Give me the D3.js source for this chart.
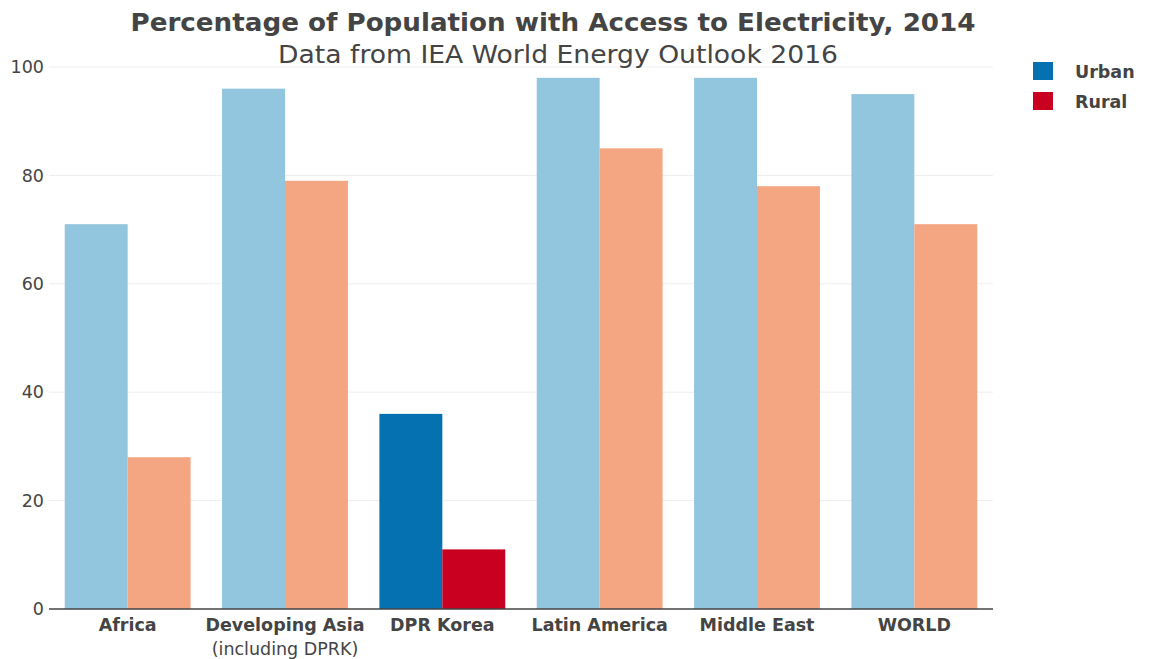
<!DOCTYPE html>
<html><head><meta charset="utf-8">
<script src="https://cdn.jsdelivr.net/npm/d3@7"></script>
<style>body{margin:0;background:#fff;} svg{display:block;}</style>
</head><body>
<svg id="c" width="1152" height="659"></svg>
<script>
const categories = ["Africa", "Developing Asia", "DPR Korea", "Latin America", "Middle East", "WORLD"];
const subLabels = ["", "(including DPRK)", "", "", "", ""];
const urban = [71, 96, 36, 98, 98, 95];
const rural = [28, 79, 11, 85, 78, 71];
const yTicks = [0, 20, 40, 60, 80, 100];
const seriesNames = ["Urban", "Rural"];
const highlight = "DPR Korea";

const svg = d3.select("#c");
const m = {l: 49, r: 159, t: 67, b: 50};
const W = 1152, H = 659;
const x = d3.scaleBand().domain(categories).range([m.l, W - m.r]).paddingInner(0.2).paddingOuter(0.1);
const x1 = d3.scaleBand().domain(seriesNames).range([0, x.bandwidth()]);
const y = d3.scaleLinear().domain([0, 100]).range([H - m.b, m.t]);
const font = "DejaVu Sans, Verdana, sans-serif";

// grid
svg.append("g").selectAll("line").data(yTicks.filter(d => d > 0)).join("line")
  .attr("x1", m.l).attr("x2", W - m.r).attr("y1", d => y(d)).attr("y2", d => y(d))
  .attr("stroke", "#eeeeee").attr("stroke-width", 1);

// y axis labels
const ya = svg.append("g").attr("transform", `translate(${m.l},0)`)
  .call(d3.axisLeft(y).tickValues(yTicks).tickSize(0).tickPadding(5));
ya.select(".domain").remove();
ya.selectAll("text").attr("font-family", font).attr("font-size", 17.5).attr("fill", "#444");

const colors = {
  normal: {Urban: "#92c5de", Rural: "#f4a582"},
  hi: {Urban: "#0571b0", Rural: "#ca0020"}
};
const rows = categories.map((c, i) => ({c, vals: [{s: "Urban", v: urban[i]}, {s: "Rural", v: rural[i]}]}));
svg.append("g").selectAll("g").data(rows).join("g")
  .attr("transform", d => `translate(${x(d.c)},0)`)
  .selectAll("rect").data(d => d.vals.map(v => ({...v, c: d.c}))).join("rect")
  .attr("x", d => x1(d.s)).attr("width", x1.bandwidth())
  .attr("y", d => y(d.v)).attr("height", d => y(0) - y(d.v))
  .attr("fill", d => (d.c === highlight ? colors.hi : colors.normal)[d.s]);

// zero line
svg.append("line").attr("x1", m.l).attr("x2", W - m.r).attr("y1", y(0)).attr("y2", y(0))
  .attr("stroke", "#444").attr("stroke-width", 1.5);

// x labels
const xl = svg.append("g");
categories.forEach((c, i) => {
  const cx = x(c) + x.bandwidth() / 2;
  xl.append("text").attr("x", cx).attr("y", 631).attr("text-anchor", "middle")
    .attr("font-family", font).attr("font-weight", "bold").attr("font-size", 17.5).attr("fill", "#444").text(c);
  if (subLabels[i]) xl.append("text").attr("x", cx).attr("y", 655).attr("text-anchor", "middle")
    .attr("font-family", font).attr("font-size", 17.5).attr("fill", "#444").text(subLabels[i]);
});

// title
svg.append("text").attr("x", 553).attr("y", 31).attr("text-anchor", "middle")
  .attr("font-family", font).attr("font-weight", "bold").attr("font-size", 25).attr("fill", "#444")
  .attr("textLength", 845).attr("lengthAdjust", "spacingAndGlyphs")
  .text("Percentage of Population with Access to Electricity, 2014");
svg.append("text").attr("x", 558).attr("y", 63).attr("text-anchor", "middle")
  .attr("font-family", font).attr("font-size", 25).attr("fill", "#444")
  .attr("textLength", 560).attr("lengthAdjust", "spacingAndGlyphs")
  .text("Data from IEA World Energy Outlook 2016");

// legend
const lg = svg.append("g");
seriesNames.forEach((s, i) => {
  lg.append("rect").attr("x", 1033).attr("y", 62 + i * 30).attr("width", 20).attr("height", 18)
    .attr("fill", colors.hi[s]);
  lg.append("text").attr("x", 1075).attr("y", 78 + i * 30)
    .attr("font-family", font).attr("font-weight", "bold").attr("font-size", 17.5).attr("fill", "#444").text(s);
});
</script>
</body></html>
